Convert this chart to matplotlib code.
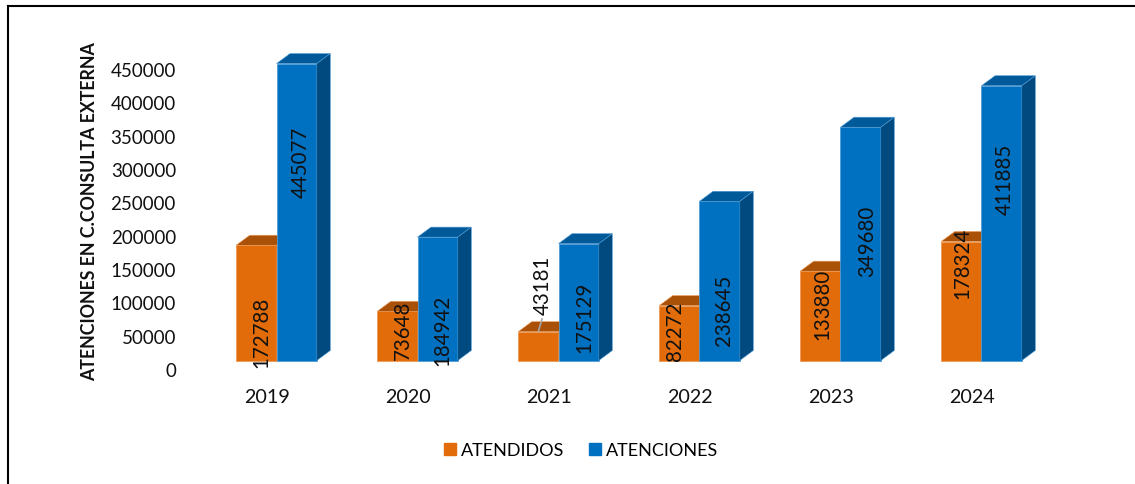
import matplotlib
matplotlib.use('Agg')
import matplotlib.pyplot as plt
from matplotlib.lines import Line2D
from matplotlib.patches import Patch, Polygon
from matplotlib.transforms import Affine2D, ScaledTranslation

# Chart values
years = ['2019', '2020', '2021', '2022', '2023', '2024']
atendidos = [172788, 73648, 43181, 82272, 133880, 178324]
atenciones = [445077, 184942, 175129, 238645, 349680, 411885]
y_ticks = [0, 50000, 100000, 150000, 200000, 250000, 300000, 350000, 400000, 450000]

# Layout, in pixels of the 1135x485 picture
W, H = 1135, 485
base_px, top_px = 361.5, 61.3
left_px, right_px = 200, 1060
first_px, group_px = 276.5, 141
bar_px, depth_x_px, depth_y_px = 40.3, 13.5, 10

# Label centres, in pixels (x, y)
lab_atendidos = [(261, 332), (403, 330), (543, 285), (675, 331), (822, 304), (962, 263)]
lab_atenciones = [(301, 162), (442, 330), (584, 317), (724, 310), (867, 241), (1005, 179)]

FONT = 'Lato'
ORANGE = ('#E36C0A', '#AA5108', '#AA5108', '#EE9A55')
BLUE = ('#0070C0', '#005A9A', '#004A80', '#4E9BD6')

fig = plt.figure(figsize=(W / 100, H / 100), dpi=100, facecolor='white')
ax = fig.add_axes([left_px / W, (H - base_px) / H, (right_px - left_px) / W, (base_px - top_px) / H])
ax.set_xlim((left_px - first_px) / group_px, (right_px - first_px) / group_px)
ax.set_ylim(0, 450000)

# Size of one pixel in data units
bar_w = bar_px / group_px
dx = depth_x_px / group_px
dy = depth_y_px * 450000 / (base_px - top_px)


def bar_3d(x, v, colors, z):
    front, top, side, edge = colors
    ax.bar(x, v, width=bar_w, align='edge', color=front, edgecolor=edge, linewidth=0.6, zorder=z, clip_on=False)
    ax.add_patch(Polygon([(x, v), (x + dx, v + dy), (x + bar_w + dx, v + dy), (x + bar_w, v)],
                         facecolor=top, edgecolor=edge, linewidth=0.4, zorder=z, clip_on=False))
    ax.add_patch(Polygon([(x + bar_w, 0), (x + bar_w + dx, dy), (x + bar_w + dx, v + dy), (x + bar_w, v)],
                         facecolor=side, edgecolor=edge, linewidth=0.4, zorder=z, clip_on=False))


for i in range(len(years)):
    bar_3d(i - bar_w, atendidos[i], ORANGE, 2)
    bar_3d(i, atenciones[i], BLUE, 3)

# Data labels, placed by hand like in the original
px = Affine2D().scale(1, -1).translate(0, H)
for values, places in [(atendidos, lab_atendidos), (atenciones, lab_atenciones)]:
    for v, (x, y) in zip(values, places):
        ax.text(x, y, str(v), transform=px, rotation=90, ha='center', va='center',
                fontsize=14.8, family=FONT, color='#111111', zorder=5, clip_on=False)

# Leader line of the 2021 label
fig.add_artist(Line2D([542, 538.5], [320, 332], transform=px, color='#A6A6A6', linewidth=1.2))

# Axes
for s in ax.spines.values():
    s.set_visible(False)
ax.set_yticks(y_ticks)
ax.set_yticklabels([str(t) for t in y_ticks], fontsize=13.5, family=FONT, color='#111111')
ax.set_xticks(range(len(years)))
ax.set_xticklabels(years, fontsize=14.2, family=FONT, color='#111111')
ax.tick_params(axis='y', length=0, pad=17.3)
ax.tick_params(axis='x', length=0, pad=20)
for lab in ax.get_yticklabels():
    lab.set_transform(lab.get_transform() + ScaledTranslation(0, -8.5 / 100, fig.dpi_scale_trans))
for lab in ax.get_xticklabels():
    lab.set_transform(lab.get_transform() + ScaledTranslation(-9.5 / 100, 0, fig.dpi_scale_trans))

fig.text(90, 212, 'ATENCIONES EN C.CONSULTA EXTERNA', transform=px, rotation=90, ha='center', va='center',
         fontsize=12.8, fontweight='bold', family=FONT, color='#111111')

# Legend
handles = [Patch(color=ORANGE[0], label='ATENDIDOS'), Patch(color=BLUE[0], label='ATENCIONES')]
fig.legend(handles=handles, loc='center', bbox_to_anchor=(581 / W, (H - 451) / H), ncol=2, frameon=False,
           prop={'family': FONT, 'size': 13}, handlelength=0.67, handleheight=0.67, handletextpad=0.28,
           columnspacing=1.33)

# Frame of the picture: only left and top edges are visible
fig.add_artist(Line2D([8, 8], [7, H], transform=px, color='black', linewidth=1.5))
fig.add_artist(Line2D([8, W], [7, 7], transform=px, color='black', linewidth=1.5))

fig.savefig('out.png', dpi=100)
